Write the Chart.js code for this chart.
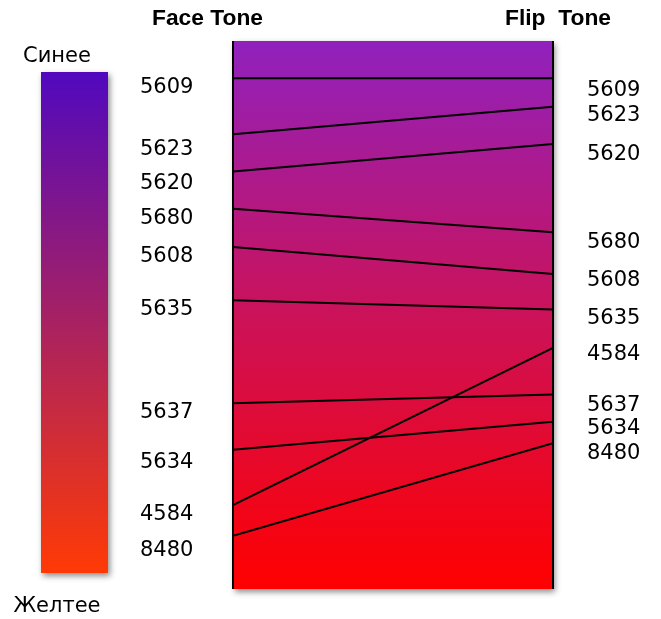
<!DOCTYPE html>
<html>
<head>
<meta charset="utf-8">
<script src="https://cdn.jsdelivr.net/npm/chart.js@4"></script>
<style>
html,body{margin:0;padding:0;background:#fff;}
#wrap{width:661px;height:619px;position:relative;}
</style>
</head>
<body>
<div id="wrap"><canvas id="c" width="661" height="619"></canvas></div>
<script>
// Column titles
const columns = ["Face Tone", "Flip  Tone"];
// Shade codes (order of the lines)
const shades = ["5609","5623","5620","5680","5608","5635","5637","5634","4584","8480"];
// Line end positions (0 = top of the panel, 100 = bottom)
const facePos = [6.8, 17.0, 23.8, 30.6, 37.6, 47.3, 66.1, 74.6, 84.7, 90.3];
const flipPos = [6.8, 12.0, 18.8, 34.9, 42.5, 49.0, 64.5, 69.5, 56.0, 73.4];
// Label positions on the same scale
const faceLabelPos = [8.0, 19.2, 25.5, 31.9, 38.7, 48.5, 67.3, 76.3, 85.9, 92.5];
const flipLabelPos = [8.6, 13.3, 20.3, 36.5, 43.4, 50.2, 66.2, 70.4, 56.9, 75.0];
// Legend texts
const legendTop = "Синее";
const legendBottom = "Желтее";

const datasets = shades.map((s, i) => ({
  label: s,
  data: [{x: 0, y: facePos[i]}, {x: 1, y: flipPos[i]}],
  borderColor: '#000',
  borderWidth: 2,
  pointRadius: 0,
  showLine: true,
  fill: false
}));

function fitText(ctx, text, cx, cy, width) {
  const w = ctx.measureText(text).width;
  ctx.save();
  ctx.translate(cx, cy);
  ctx.scale(width / w, 1);
  ctx.textAlign = 'center';
  ctx.fillText(text, 0, 0);
  ctx.restore();
}

const bgPlugin = {
  id: 'bg',
  beforeDatasetsDraw(chart) {
    const {ctx, chartArea: a} = chart;
    ctx.save();
    // legend bar
    const lx = 41, lw = 67, ly = 72, lh = 501;
    ctx.shadowColor = 'rgba(0,0,0,0.45)';
    ctx.shadowBlur = 6;
    ctx.shadowOffsetX = 2;
    ctx.shadowOffsetY = 3;
    let g = ctx.createLinearGradient(0, ly, 0, ly + lh);
    g.addColorStop(0, '#5109BE');
    g.addColorStop(1, '#FF3A05');
    ctx.fillStyle = g;
    ctx.fillRect(lx, ly, lw, lh);
    // main panel
    g = ctx.createLinearGradient(0, a.top, 0, a.bottom);
    g.addColorStop(0, '#9021BD');
    g.addColorStop(0.5, '#CB1259');
    g.addColorStop(1, '#FF0000');
    ctx.fillStyle = g;
    ctx.fillRect(a.left, a.top, a.right - a.left, a.bottom - a.top);
    ctx.restore();
    ctx.save();
    ctx.strokeStyle = '#000';
    ctx.lineWidth = 2;
    ctx.beginPath();
    ctx.moveTo(a.left, a.top); ctx.lineTo(a.left, a.bottom);
    ctx.moveTo(a.right, a.top); ctx.lineTo(a.right, a.bottom);
    ctx.stroke();
    ctx.restore();
  },
  afterDraw(chart) {
    const {ctx} = chart;
    const y = chart.scales.y;
    ctx.save();
    ctx.fillStyle = '#000';
    ctx.textBaseline = 'middle';
    ctx.font = 'bold 22px "Liberation Sans Narrow", "Liberation Sans", sans-serif';
    fitText(ctx, columns[0], 207.5, 19, 111);
    fitText(ctx, columns[1], 558, 19, 106);
    ctx.textAlign = 'center';
    ctx.font = '21px "DejaVu Sans", sans-serif';
    ctx.fillText(legendTop, 57, 57);
    ctx.fillText(legendBottom, 57, 607);
    ctx.textAlign = 'left';
    shades.forEach((s, i) => {
      ctx.fillText(s, 140, y.getPixelForValue(faceLabelPos[i]) + 3);
      ctx.fillText(s, 587, y.getPixelForValue(flipLabelPos[i]) + 2);
    });
    ctx.restore();
  }
};

new Chart(document.getElementById('c'), {
  type: 'scatter',
  data: {datasets},
  options: {
    responsive: false,
    devicePixelRatio: 1,
    animation: false,
    layout: {padding: {left: 233, right: 108, top: 41, bottom: 30}},
    plugins: {legend: {display: false}, tooltip: {enabled: false}},
    scales: {
      x: {type: 'linear', min: 0, max: 1, display: false},
      y: {type: 'linear', min: 0, max: 100, reverse: true, display: false}
    }
  },
  plugins: [bgPlugin]
});
</script>
</body>
</html>
